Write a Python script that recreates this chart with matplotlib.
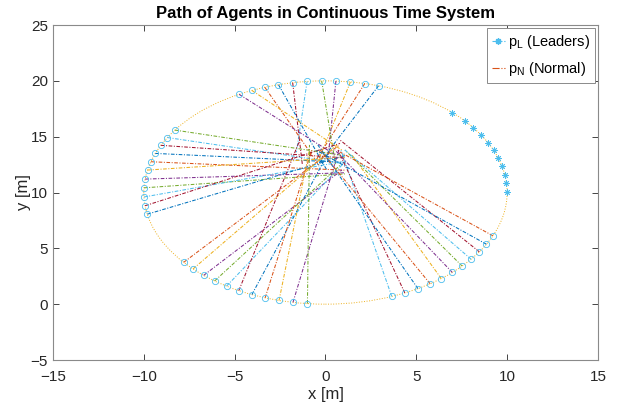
import matplotlib.pyplot as plt
from matplotlib.lines import Line2D
from matplotlib.patches import Circle
import numpy as np

plt.rcParams['font.family'] = ['Liberation Sans', 'DejaVu Sans']
plt.rcParams['mathtext.default'] = 'regular'

# MATLAB default line colours
colors = ['#0072BD', '#D95319', '#EDB120', '#7E2F8E', '#77AC30', '#4DBEEE', '#A2142F']

center = (0.0, 10.0)
radius = 10.0

# leader positions on the circle (degrees)
leader_angles = [0.3, 4.8, 9.2, 13.6, 17.9, 22.3, 26.5, 31.2, 35.6, 39.9, 45.7]

# normal agents: start angle on the circle (degrees) and end point of the path
normal_angles = [73.0, 77.5, 82.1, 86.7, 91.2, 95.8, 100.4, 105.0, 109.5, 113.9, 118.4,
                 146.0, 150.5, 155.0, 159.5, 164.0, 168.4, 173.1, 177.6, 182.3, 186.8, 191.2,
                 218.7, 223.2, 227.9, 232.4, 237.0, 241.5, 246.1, 250.6, 255.2, 259.7, 264.3,
                 291.4, 295.9, 300.6, 305.2, 309.6, 314.3, 318.8, 323.3, 327.9, 332.4, 337.2]
end_x = [-0.42, -0.52, -0.38, 0.13, 0.56, -1.60, -1.27, 0.08, -0.36, 0.90, 0.55,
         1.07, 1.07, 1.07, 1.07, 1.07, 1.07, 1.07, 1.07, 1.07, 0.80, 1.07,
         0.77, 0.63, 0.91, 0.82, 0.91, -1.41, 0.24, -0.75, -0.88, 0.74, -0.88,
         0.85, 0.69, -0.42, -0.31, 1.46, 0.52, 1.07, 1.07, 0.80, -0.53, 0.80]
end_y = [12.47, 12.90, 12.90, 12.90, 12.47, 13.60, 12.47, 12.00, 12.47, 13.80, 13.36,
         13.30, 12.57, 13.10, 12.70, 12.00, 13.15, 11.77, 11.67, 12.80, 14.40, 13.30,
         14.26, 14.26, 12.02, 12.47, 12.47, 14.70, 13.81, 13.81, 13.81, 13.81, 14.26,
         13.81, 13.81, 14.26, 13.81, 13.36, 13.81, 13.81, 13.81, 14.70, 13.81, 13.63]

fig = plt.figure(figsize=(6.21, 4.09), dpi=100)
ax = fig.add_axes([0.0853, 0.1198, 0.8776, 0.819])

# circular path
ax.add_patch(Circle(center, radius, fill=False, edgecolor=colors[2],
                    linestyle=':', linewidth=0.7))

dashdot = (0, (3.5, 1.5, 1, 1.5))
na = np.radians(normal_angles)
sx = center[0] + radius * np.cos(na)
sy = center[1] + radius * np.sin(na)
for i in range(len(normal_angles)):
    ax.plot([sx[i], end_x[i]], [sy[i], end_y[i]], color=colors[i % 7],
            linestyle=dashdot, linewidth=0.75)
ax.plot(sx, sy, 'o', color=colors[5], markerfacecolor='none',
        markersize=4.5, markeredgewidth=0.6)

la = np.radians(leader_angles)
ax.plot(center[0] + radius * np.cos(la), center[1] + radius * np.sin(la),
        linestyle='none', marker=(8, 2, 0), color=colors[5], markersize=4.5,
        markeredgewidth=0.6)

ax.set_xlim(-15, 15)
ax.set_ylim(-5, 25)
ax.set_xticks(range(-15, 16, 5))
ax.set_yticks(range(-5, 26, 5))
ax.tick_params(direction='in', length=4, width=0.6, top=True, right=True,
               labelsize=11, colors='#262626')
ax.tick_params(axis='x', pad=7)
for s in ax.spines.values():
    s.set_color('#8a8a8a')
    s.set_linewidth(0.8)

ax.set_xlabel('x [m]', fontsize=12, color='#262626', labelpad=2)
ax.set_ylabel('y [m]', fontsize=12, color='#262626', labelpad=0)
ax.set_title('Path of Agents in Continuous Time System', fontsize=12,
             fontweight='bold', color='black', pad=5)

handles = [Line2D([], [], color=colors[5], linestyle='-.', linewidth=0.8,
                  marker=(8, 2, 0), markersize=4.5),
           Line2D([], [], color=colors[1], linestyle='-.', linewidth=0.8)]
leg = ax.legend(handles, ['p$_L$ (Leaders)', 'p$_N$ (Normal)'], loc='upper right',
                fontsize=10.5, fancybox=False, edgecolor='#8a8a8a', framealpha=1,
                handlelength=0.9, handletextpad=0.2, borderpad=0.35,
                labelspacing=0.6, borderaxespad=0.2)
leg.get_frame().set_linewidth(0.7)

fig.savefig('out.png', dpi=100)
